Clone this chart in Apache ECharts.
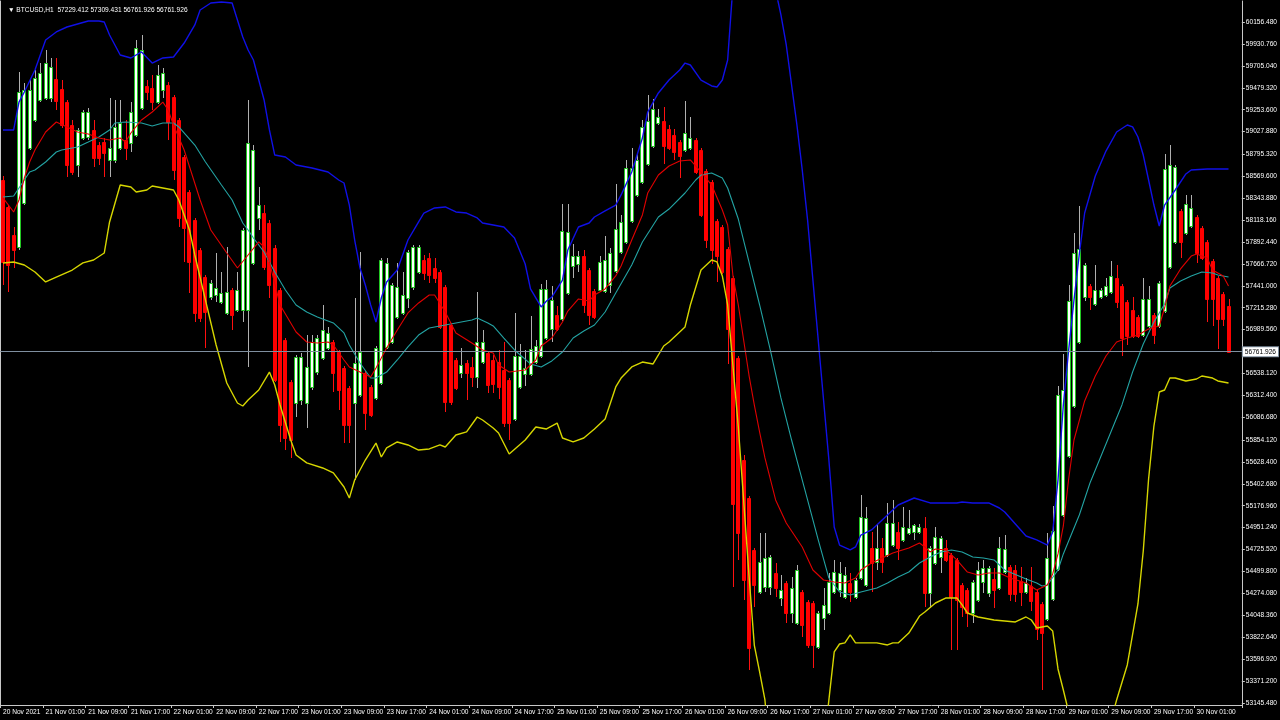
<!DOCTYPE html>
<html><head><meta charset="utf-8">
<script src="https://cdn.jsdelivr.net/npm/echarts@6/dist/echarts.min.js"></script>
<style>html,body{margin:0;padding:0;background:#000;}#c{width:1280px;height:720px;}</style>
</head><body><div id="c"></div>
<script>
const headerText = '\u25BC BTCUSD,H1  57229.412 57309.431 56761.926 56761.926';
const currentPrice = 56761.926;

const opens = [
58530,58252,57964,57840,58293,58859,59148,59353,59374,59374,
59570,59467,59332,59096,58684,58962,58973,59045,58890,58921,
58736,58736,58859,58942,58911,58993,59271,59498,59477,59333,
59456,59508,59384,59148,58767,58406,58118,57809,57531,57325,
57346,57274,57161,57397,57191,57191,57191,57675,58139,58190,
58087,57830,57397,56883,56450,56234,56265,56234,56399,56553,
56697,56800,56862,56759,56595,56388,56234,56316,56543,56399,
56286,56440,56811,56862,57120,57161,57315,57428,57583,57706,
57727,57624,57583,57428,57037,56677,56543,56646,56605,56502,
56656,56749,56677,56656,56574,56471,56069,56399,56533,56533,
56656,56718,56903,56996,57140,57099,57367,57645,57665,57747,
57603,57387,57397,57387,57449,57593,57789,57892,58108,58376,
58509,58695,58880,59117,59137,59055,58993,58921,58839,58859,
58942,58839,58623,58509,58108,58046,57820,57521,56697,55647,
55256,54721,54288,54340,54340,54484,54227,54381,54072,53969,
54288,54185,54175,53722,54020,54072,54288,54309,54237,54381,
54237,54432,54360,54741,54597,54741,54669,54772,54906,54824,
54896,54906,54906,54947,54278,54587,54649,54741,54669,54618,
54360,54309,54072,54206,54391,54278,54422,54329,54494,54546,
54515,54402,54288,54350,54288,54165,54010,54216,54525,55081,
55688,56203,56862,57325,57439,57253,57325,57346,57377,57521,
57439,57274,57191,57120,56934,57027,57140,57027,57181,57634,
57892,58211,57984,58056,58149,58036,57892,57696,57521,57356,
57229.412];

const highs = [
58571,58272,58046,59642,59528,59559,59662,59734,59868,59786,
59786,59559,59354,59148,59065,59251,59271,59148,58921,58962,
59374,59353,59354,59148,59332,59971,60023,59559,59611,59714,
59683,59539,59405,59168,58787,58427,58139,57830,57552,57500,
57778,57583,57840,57418,57583,58036,59354,58890,58458,58272,
58118,57861,57418,56903,56471,56728,56749,56934,56934,56934,
57243,57017,56883,56780,56615,56409,57315,57789,56564,56419,
56821,57727,57727,57470,57675,57583,57809,57861,57861,57758,
57778,57727,57603,57449,57058,56697,56800,56677,56708,57377,
56986,56769,56728,56780,56862,56491,57161,56842,56780,57130,
56883,57459,57500,57439,57233,58283,58283,57871,57799,57809,
57624,57408,57747,57953,57830,58489,58170,58736,58859,58798,
59148,59405,59364,59261,59281,59096,59055,58942,59343,59179,
58962,58859,58643,58530,58128,58067,57840,57541,56718,55699,
55277,54741,54896,54896,54669,54587,54463,54402,54443,54566,
54309,54206,54196,54093,54329,54484,54618,54597,54546,54484,
54432,55287,55163,54906,54978,54844,55205,55236,55009,55163,
55132,54989,54989,55060,54762,54958,54865,54824,54690,54638,
54381,54329,54412,54597,54618,54556,54535,54855,54875,54566,
54566,54546,54432,54546,54309,54185,54896,55174,56409,56738,
57449,57984,58262,57675,57459,57655,57418,57521,57696,57655,
57459,57294,57325,57140,57521,57439,57161,57490,58798,58890,
58684,58231,58376,58376,58170,58056,57912,57717,57541,57377,
57309.431];

const lows = [
57449,57377,57624,57809,58272,58839,59127,59332,59354,59333,
59251,59065,58561,58581,58561,58942,58942,58664,58684,58561,
58561,58705,58839,58736,58818,58973,59251,59354,59251,59312,
59374,58942,58530,58046,57686,57367,57068,57068,56800,57294,
57274,57253,57140,56985,57171,57068,56605,57655,58015,57603,
57315,56450,55833,55750,55668,56090,56214,55977,56368,56522,
56677,56780,56347,56162,55822,55822,55441,56296,55956,56090,
56265,56419,56790,56842,57099,57140,57212,57397,57562,57500,
57470,57470,56996,56141,56214,56368,56491,56265,56399,56388,
56636,56337,56337,56275,55987,55853,56049,56378,56409,56512,
56636,56697,56883,56862,56976,57078,57346,57521,57583,57161,
57037,57099,57377,57367,57367,57572,57768,57871,58087,58355,
58489,58674,58859,59096,58695,58839,58736,58550,58818,58839,
58592,58149,57830,57665,57480,57562,56636,54340,54618,54206,
53485,54134,54268,54288,54257,54237,54144,53969,53969,53949,
53825,53712,53506,53702,53897,54052,54268,54237,54216,54185,
54216,54412,54340,54288,54515,54484,54649,54752,54618,54803,
54875,54824,54886,54134,54124,54566,54484,54597,53691,53691,
54031,53928,53969,54185,54278,54237,54124,54309,54474,54196,
54185,54144,54268,54093,53794,53279,53990,54196,54505,55060,
55668,56183,56842,57284,57191,57233,57305,57325,57356,57212,
56718,56831,56903,56903,56914,57006,56842,57006,57161,57614,
57871,57727,57964,58036,57675,57706,57068,57027,56790,57027,
56761.926];

const closes = [
57686,57655,57809,59436,59456,59456,59580,59631,59734,59693,
59343,59096,58684,58612,59045,59230,59230,58756,58756,58808,
58859,59076,59117,58859,59230,59889,59868,59436,59333,59611,
59631,59127,58633,58139,58036,57686,57161,57109,57171,57470,
57418,57367,57377,57140,57397,58015,58911,58839,58272,57634,
57449,56471,56008,55874,55853,56708,56708,56605,56862,56903,
56986,56955,56543,56368,56008,56008,56646,56759,56131,56111,
56800,57706,57675,57449,57428,57346,57789,57840,57840,57572,
57552,57521,57017,56244,56244,56388,56625,56543,56502,56862,
56862,56419,56430,56399,56028,56028,56718,56718,56595,56790,
56821,57408,57408,57294,56996,58005,57995,57747,57747,57243,
57140,57120,57686,57706,57778,58025,58098,58653,58653,58736,
59076,59137,59261,59179,58880,58859,58818,58777,59014,58962,
58612,58170,57912,57809,57747,57583,56996,55194,54896,54412,
53712,54360,54597,54638,54649,54329,54309,54072,54329,54515,
53949,53743,53743,54072,54155,54391,54494,54484,54463,54288,
54412,55060,55050,54587,54741,54597,54999,54999,54741,54958,
54947,54978,54958,54278,54741,54855,54844,54618,54237,54206,
54134,54072,54391,54515,54535,54535,54309,54741,54731,54268,
54268,54288,54381,54196,53907,53866,54638,54916,56316,56368,
57284,57778,57820,57655,57325,57397,57397,57439,57542,57274,
56903,56924,56924,56924,57305,57305,56934,57470,58643,58684,
58664,57892,58283,58242,57778,57727,57305,57305,57099,57099,
56761.926];

// indicator lines: [bar index, price]
const upperBand = [[0,59045],[2,59045],[3,59332],[4,59436],[6,59662],[8,59971],[10,60054],[12,60105],[14,60136],[16,60167],[18,60167],[19,60156],[20,60023],[22,59817],[24,59786],[26,59848],[28,59734],[30,59786],[32,59796],[34,59940],[36,60126],[37,60280],[39,60352],[41,60362],[43,60352],[44,60177],[45,60002],[46,59868],[47,59765],[48,59559],[49,59354],[50,59045],[51,58787],[53,58767],[55,58684],[58,58653],[61,58612],[63,58530],[64,58499],[65,58272],[66,57912],[67,57624],[68,57449],[69,57243],[70,57068],[71,57315],[72,57480],[74,57603],[76,57912],[78,58098],[79,58190],[81,58242],[83,58252],[85,58201],[87,58190],[89,58139],[90,58087],[92,58067],[94,58046],[96,57933],[98,57665],[99,57408],[101,57223],[102,57284],[103,57325],[105,57500],[106,57809],[108,58046],[110,58087],[111,58149],[113,58211],[115,58272],[116,58376],[118,58612],[120,58962],[121,59230],[123,59426],[125,59559],[127,59662],[128,59734],[129,59714],[131,59559],[133,59498],[134,59487],[135,59559],[136,59765],[137,60537],[139,61001],[141,61207],[143,60898],[145,60486],[146,60229],[147,59920],[148,59508],[149,59096],[150,58633],[151,58118],[152,57500],[153,56883],[154,56265],[155,55647],[156,54957],[157,54772],[159,54721],[160,54752],[161,54875],[163,54927],[165,55030],[168,55184],[171,55256],[174,55205],[176,55205],[179,55205],[180,55215],[182,55205],[185,55205],[187,55153],[188,55112],[190,54988],[192,54865],[194,54824],[196,54772],[197,54906],[198,55441],[199,56214],[200,56780],[201,57294],[202,57768],[203,58190],[205,58571],[207,58828],[209,59024],[211,59096],[212,59076],[213,58973],[214,58787],[215,58530],[216,58272],[217,58056],[218,58272],[220,58427],[222,58592],[223,58633],[226,58643],[230,58643]];

const lowerBand = [[0,57676],[2,57686],[4,57655],[6,57583],[8,57480],[10,57531],[13,57603],[15,57676],[17,57706],[19,57778],[20,58098],[22,58478],[24,58458],[25,58406],[27,58427],[28,58468],[30,58448],[32,58427],[33,58324],[35,58015],[36,57758],[38,57294],[40,56831],[42,56440],[44,56234],[45,56203],[46,56265],[48,56368],[50,56553],[51,56419],[52,56214],[54,55853],[55,55699],[57,55617],[60,55565],[62,55514],[64,55369],[65,55256],[66,55441],[68,55647],[70,55822],[71,55678],[72,55771],[74,55833],[76,55802],[78,55750],[80,55761],[82,55802],[83,55781],[85,55905],[87,55936],[89,56090],[90,56059],[92,55977],[93,55925],[95,55709],[98,55853],[100,55987],[102,55967],[104,56028],[105,55874],[107,55833],[109,55874],[111,55967],[113,56069],[115,56399],[116,56491],[118,56605],[120,56656],[122,56636],[124,56821],[125,56862],[126,56914],[128,57017],[129,57243],[131,57603],[133,57706],[134,57686],[135,57542],[136,57243],[137,56615],[138,55987],[139,55236],[140,54463],[141,53742],[142,53465],[143,53177],[144,52559],[146,51941],[148,51529],[150,51529],[152,51941],[154,52662],[155,53177],[156,53671],[157,53753],[158,53764],[159,53846],[160,53764],[162,53764],[164,53764],[166,53743],[167,53764],[168,53764],[170,53866],[172,54041],[173,54082],[175,54175],[177,54227],[179,54227],[180,54155],[181,54072],[183,54031],[186,54000],[188,53990],[190,53980],[192,54031],[193,54000],[194,53918],[196,53938],[197,53887],[198,53496],[199,53279],[200,53053],[202,52559],[204,52353],[206,52456],[208,52971],[209,53177],[211,53537],[213,54165],[214,54710],[215,55452],[216,55997],[217,56347],[218,56368],[219,56491],[220,56491],[222,56461],[224,56481],[225,56512],[227,56491],[228,56461],[230,56440]];

const slowMA = [[0,58355],[2,58365],[3,58448],[5,58612],[6,58633],[8,58715],[10,58818],[11,58839],[14,58870],[16,58921],[18,58973],[20,59045],[21,59117],[23,59127],[26,59117],[28,59086],[30,59117],[32,59117],[33,59076],[36,58890],[38,58715],[41,58478],[43,58324],[45,58087],[46,58015],[47,57933],[49,57789],[51,57583],[53,57397],[55,57243],[57,57171],[59,57120],[62,57058],[64,56955],[65,56831],[67,56646],[69,56491],[70,56491],[72,56553],[74,56677],[76,56811],[78,56934],[80,57006],[83,57037],[85,57058],[88,57089],[89,57109],[91,57058],[92,57027],[94,56903],[96,56780],[99,56636],[101,56605],[103,56667],[105,56759],[107,56903],[109,56975],[111,57037],[113,57171],[115,57367],[118,57655],[120,57892],[123,58149],[125,58231],[128,58396],[130,58530],[131,58581],[133,58602],[135,58550],[136,58448],[138,58128],[140,57686],[142,57243],[144,56780],[146,56286],[148,55853],[149,55647],[151,55236],[153,54824],[155,54432],[157,54288],[159,54257],[161,54288],[164,54329],[166,54381],[168,54443],[170,54494],[172,54587],[174,54649],[176,54700],[178,54721],[180,54700],[182,54649],[184,54638],[186,54618],[188,54515],[192,54422],[194,54381],[195,54350],[196,54360],[198,54515],[199,54680],[202,55081],[204,55410],[207,55812],[210,56214],[212,56553],[214,56842],[216,57068],[218,57253],[219,57418],[221,57490],[223,57542],[225,57583],[227,57572],[228,57552],[230,57531]];

const fastMA = [[0,58345],[2,58200],[3,58324],[4,58550],[5,58715],[6,58839],[8,59024],[10,59127],[12,59076],[14,59024],[16,59004],[18,58962],[20,58942],[22,58962],[23,58921],[24,59014],[26,59148],[28,59230],[30,59332],[31,59251],[32,59096],[34,58839],[37,58324],[39,58015],[42,57778],[44,57624],[46,57758],[48,57892],[49,57840],[50,57686],[52,57243],[55,56965],[57,56862],[59,56852],[61,56862],[62,56831],[64,56677],[65,56605],[67,56553],[69,56502],[70,56595],[72,56800],[74,56986],[76,57161],[78,57264],[80,57346],[81,57346],[83,57171],[85,56955],[88,56852],[90,56780],[92,56749],[93,56626],[95,56553],[98,56574],[100,56677],[101,56821],[103,56903],[105,57068],[106,57181],[108,57305],[110,57284],[111,57346],[113,57408],[115,57542],[116,57645],[118,57912],[120,58170],[121,58396],[123,58581],[125,58674],[127,58726],[129,58736],[131,58612],[133,58478],[135,58221],[136,58067],[137,57542],[138,57243],[139,56883],[140,56522],[141,56214],[142,55935],[143,55668],[145,55236],[147,54999],[150,54752],[152,54515],[154,54412],[156,54391],[158,54381],[160,54432],[161,54515],[163,54587],[165,54638],[167,54690],[170,54741],[172,54793],[173,54752],[174,54700],[175,54731],[177,54721],[179,54618],[181,54494],[183,54463],[185,54484],[187,54484],[189,54432],[192,54381],[194,54309],[196,54360],[197,54474],[198,54680],[199,54968],[200,55452],[201,55853],[203,56255],[205,56512],[207,56718],[209,56862],[211,56903],[213,56934],[215,56996],[217,57027],[218,57212],[219,57439],[221,57614],[223,57747],[224,57768],[226,57727],[227,57603],[229,57542],[230,57439]];

const xTickLabels = ['20 Nov 2021','21 Nov 01:00','21 Nov 09:00','21 Nov 17:00','22 Nov 01:00','22 Nov 09:00','22 Nov 17:00','23 Nov 01:00','23 Nov 09:00','23 Nov 17:00','24 Nov 01:00','24 Nov 09:00','24 Nov 17:00','25 Nov 01:00','25 Nov 09:00','25 Nov 17:00','26 Nov 01:00','26 Nov 09:00','26 Nov 17:00','27 Nov 01:00','27 Nov 09:00','27 Nov 17:00','28 Nov 01:00','28 Nov 09:00','28 Nov 17:00','29 Nov 01:00','29 Nov 09:00','29 Nov 17:00','30 Nov 01:00'];

const yTickLabels = [60156.48,59930.76,59705.04,59479.32,59253.6,59027.88,58795.32,58569.6,58343.88,58118.16,57892.44,57666.72,57441.0,57215.28,56989.56,56538.12,56312.4,56086.68,55854.12,55628.4,55402.68,55176.96,54951.24,54725.52,54499.8,54274.08,54048.36,53822.64,53596.92,53371.2,53145.48];

const LABEL_STEP = 8;
const N_SLOTS = 233;
const categories = [];
const t0 = Date.UTC(2021, 10, 20, 17);
for (let i = 0; i < N_SLOTS; i++) {
  const d = new Date(t0 + i * 3600000);
  categories.push(d.toISOString().slice(0, 13));
}
const candleRows = opens.map((o, i) => [i, o, closes[i], lows[i], highs[i]]);

const font = '"Liberation Sans",Arial,sans-serif';
const FS = 6.6;
const axisCol = '#c8c8c8';
const yMin = 53124.9, yMax = 60372.7;
const showTick = (i) => i % LABEL_STEP === 0 && i / LABEL_STEP < xTickLabels.length;

function renderCandle(params, api) {
  const idx = api.value(0);
  const o = api.value(1), c = api.value(2), l = api.value(3), h = api.value(4);
  const po = api.coord([idx, o]), pc = api.coord([idx, c]);
  const pl = api.coord([idx, l]), ph = api.coord([idx, h]);
  const bull = c >= o;
  const xc = Math.round(po[0]) + 0.5;
  const yTop = Math.round(Math.min(po[1], pc[1])) + 0.5;
  const yBot = Math.round(Math.max(po[1], pc[1])) + 0.5;
  const hgt = Math.max(1, yBot - yTop);
  return {
    type: 'group',
    children: [
      { type: 'line', shape: { x1: xc, y1: Math.round(ph[1]), x2: xc, y2: Math.round(pl[1]) },
        style: { stroke: bull ? '#b0b0b0' : '#ff1010', lineWidth: 1 } },
      { type: 'rect', shape: { x: xc - 2, y: yTop, width: 3, height: hgt },
        style: { fill: bull ? '#ffffff' : '#ff0000', stroke: bull ? '#22c822' : '#ff0000', lineWidth: 1 } }
    ]
  };
}

const lineSeries = (name, data, color, width) => ({
  name, type: 'line', data, showSymbol: false, symbol: 'none', smooth: false,
  clip: true, z: 3, silent: true,
  lineStyle: { color, width }
});

const chart = echarts.init(document.getElementById('c'), null, { renderer: 'canvas' });
const fast = lineSeries('Fast MA', fastMA, '#e00000', 1.1);
fast.markLine = {
  symbol: 'none', silent: true, animation: false,
  data: [{ yAxis: currentPrice }],
  lineStyle: { color: '#7f8f9f', width: 1, type: 'solid' },
  label: {
    position: 'end', distance: 1, formatter: () => currentPrice.toFixed(3),
    backgroundColor: '#ffffff', color: '#000000', fontSize: FS, fontFamily: font,
    padding: [1, 2, 1, 2], borderColor: '#7f8f9f', borderWidth: 1
  }
};
chart.setOption({
  animation: false,
  backgroundColor: '#000000',
  title: {
    text: headerText, left: 3, top: 2,
    textStyle: { color: '#ffffff', fontSize: FS, fontWeight: 'normal', fontFamily: font }
  },
  grid: { left: 0, right: 37, top: 1, bottom: 15, containLabel: false },
  xAxis: {
    type: 'category', data: categories, boundaryGap: true,
    axisLine: { show: true, lineStyle: { color: axisCol, width: 1 } },
    axisTick: { show: true, interval: showTick, alignWithLabel: false, length: 3, lineStyle: { color: axisCol } },
    axisLabel: {
      interval: showTick, formatter: (v, i) => xTickLabels[i / LABEL_STEP],
      align: 'left', color: '#ffffff', fontSize: FS, fontFamily: font, margin: 4, hideOverlap: false
    },
    splitLine: { show: false }
  },
  yAxis: [{
    type: 'value', position: 'right', min: yMin, max: yMax,
    axisLine: { show: true, lineStyle: { color: axisCol, width: 1 } },
    axisTick: { show: true, customValues: yTickLabels, length: 3, lineStyle: { color: axisCol } },
    axisLabel: {
      customValues: yTickLabels, formatter: (v) => Number(v).toFixed(3),
      color: '#ffffff', fontSize: FS, fontFamily: font, margin: 4
    },
    splitLine: { show: false }
  }, {
    type: 'value', position: 'left', min: yMin, max: yMax,
    axisLine: { show: true, lineStyle: { color: axisCol, width: 1 } },
    axisTick: { show: false }, axisLabel: { show: false }, splitLine: { show: false }
  }],
  series: [
    {
      name: 'BTCUSD', type: 'custom', data: candleRows, renderItem: renderCandle,
      encode: { x: 0, y: [1, 2, 3, 4] }, z: 2, silent: true, clip: true
    },
    lineSeries('Upper band', upperBand, '#1010e6', 1.4),
    lineSeries('Lower band', lowerBand, '#d6d600', 1.4),
    lineSeries('Slow MA', slowMA, '#23a3a3', 1.1),
    fast
  ]
});
</script></body></html>
